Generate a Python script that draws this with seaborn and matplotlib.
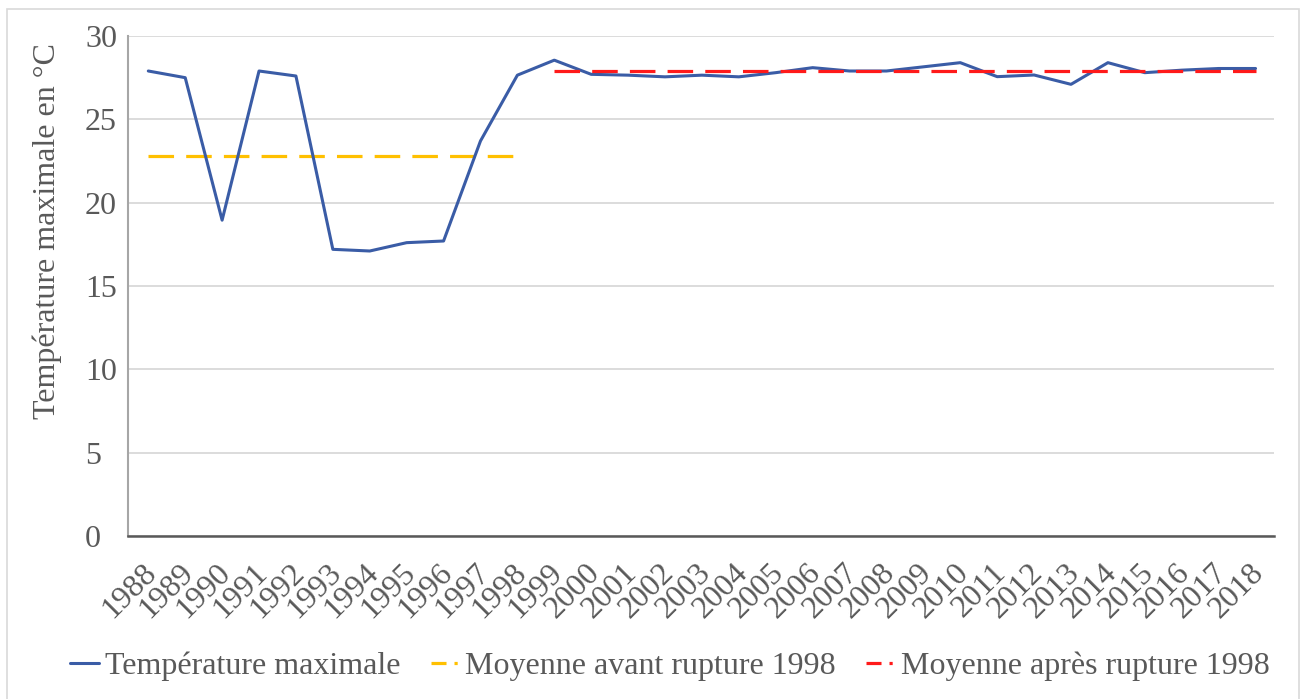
import matplotlib
matplotlib.use("Agg")
import matplotlib.pyplot as plt
import matplotlib.transforms as mtransforms
from matplotlib.patches import Rectangle
from matplotlib.lines import Line2D
import seaborn as sns
import pandas as pd

years = list(range(1988, 2019))
tmax = [27.9, 27.5, 18.95, 27.9, 27.6, 17.2, 17.1, 17.6, 17.7, 23.7, 27.65,
        28.55, 27.7, 27.65, 27.55, 27.65, 27.55, 27.8, 28.1, 27.9, 27.9,
        28.15, 28.4, 27.56, 27.66, 27.1, 28.4, 27.8, 27.95, 28.05, 28.05]
years_before = list(range(1988, 1999))
mean_before = [22.8] * len(years_before)
years_after = list(range(1999, 2019))
mean_after = [27.87] * len(years_after)

labels = ["Température maximale", "Moyenne avant rupture 1998", "Moyenne après rupture 1998"]
colors = ["#3A5CA6", "#FFC000", "#FF1A1A"]

sns.set_theme(style="white")
plt.rcParams['font.family'] = ['Liberation Serif', 'DejaVu Serif']
text_color = "#595959"
FS = 23

fig = plt.figure(figsize=(13.04, 6.99), dpi=100)
ax = fig.add_axes([128/1304, 1-536/699, (1274-128)/1304, 500/699])

pos = {y: i for i, y in enumerate(years)}
df = pd.DataFrame({"x": [pos[y] for y in years], "v": tmax})
dfb = pd.DataFrame({"x": [pos[y] for y in years_before], "v": mean_before})
dfa = pd.DataFrame({"x": [pos[y] for y in years_after], "v": mean_after})

sns.lineplot(data=df, x="x", y="v", ax=ax, color=colors[0], linewidth=2.2, zorder=3)
sns.lineplot(data=dfb, x="x", y="v", ax=ax, color=colors[1], linewidth=2.3,
             linestyle=(0, (8, 3.8)), zorder=2)
sns.lineplot(data=dfa, x="x", y="v", ax=ax, color=colors[2], linewidth=2.3,
             linestyle=(0, (8, 3.8)), zorder=4)

ax.set_xlim(-0.55, len(years) - 0.5)
ax.set_ylim(0, 30)
ax.set_yticks(range(0, 31, 5))
ax.yaxis.grid(True, color="#D9D9D9", linewidth=1.3)
ax.xaxis.grid(False)
ax.set_xticks(range(len(years)))
ax.tick_params(axis="both", length=0, labelsize=FS, colors=text_color)
ax.tick_params(axis="x", pad=0)
ax.tick_params(axis="y", pad=31)
ax.set_xticklabels([str(y) for y in years], rotation=45, ha="right", va="top",
                   rotation_mode="anchor")
offset = mtransforms.ScaledTranslation(-6/100, -22/100, fig.dpi_scale_trans)
for lab in ax.get_xticklabels():
    lab.set_transform(lab.get_transform() + offset)
for lab in ax.get_yticklabels():
    lab.set_horizontalalignment("left")
for s in ["top", "right"]:
    ax.spines[s].set_visible(False)
ax.spines["left"].set_color("#A6A6A6")
ax.spines["left"].set_linewidth(1.5)
ax.spines["bottom"].set_color("#595959")
ax.spines["bottom"].set_linewidth(1.8)
ax.set_xlabel("")
ax.set_ylabel("Température maximale en °C", fontsize=FS, color=text_color)
ax.yaxis.set_label_coords(-(128-62)/1146, (536-231)/500)

handles = [Line2D([], [], color=colors[0], linewidth=2.2),
           Line2D([], [], color=colors[1], linewidth=2.3, linestyle=(0, (4.7, 2.5, 1, 2.5))),
           Line2D([], [], color=colors[2], linewidth=2.3, linestyle=(0, (4.7, 2.5, 1, 2.5)))]
leg = fig.legend(handles, labels, loc="center", bbox_to_anchor=(670/1304, 1-666/699), ncol=3,
                 frameon=False, fontsize=FS, handlelength=0.88, handletextpad=0.2,
                 columnspacing=0.95)
for t in leg.get_texts():
    t.set_color(text_color)

fig.patches.append(Rectangle((7/1304, -2/699), 1292/1304, 692/699, transform=fig.transFigure,
                             fill=False, edgecolor="#D9D9D9", linewidth=1.2))

fig.savefig("out.png", dpi=100)
